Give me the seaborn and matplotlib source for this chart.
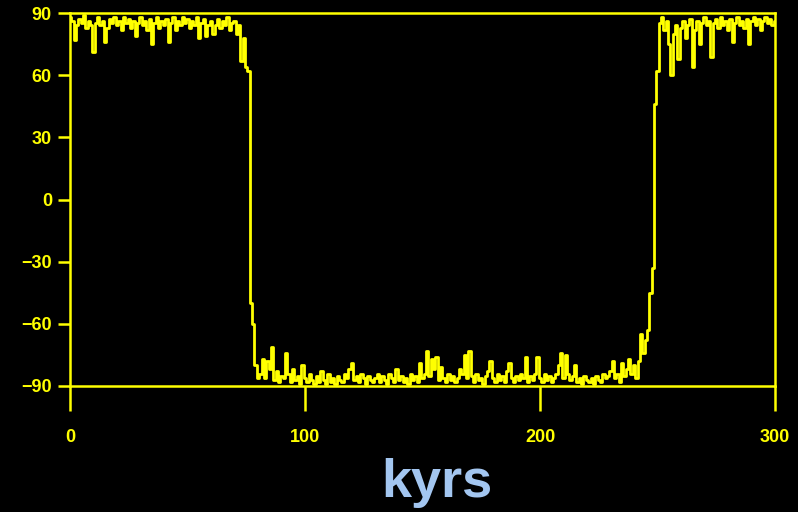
import numpy as np
import pandas as pd
import matplotlib
matplotlib.use("Agg")
import matplotlib.pyplot as plt
import seaborn as sns

# ---- data (1 kyr resolution) ----
upper_a = [88, 86, 77, 84, 87, 85, 89, 83, 86, 84,
           71, 85, 88, 84, 86, 76, 83, 87, 85, 88,
           84, 86, 82, 88, 85, 87, 83, 86, 79, 85,
           88, 84, 86, 82, 87, 75, 85, 88, 83, 86,
           84, 87, 76, 85, 88, 82, 86, 84, 88, 85,
           87, 83, 86, 84, 88, 78, 85, 87, 79, 84,
           86, 80, 84, 87, 83, 86, 84, 88, 82, 85,
           86, 80, 84, 67, 78, 64]
drop = [62, -50, -60]
lower = [-80, -86,
         -84, -77, -86, -78, -82, -71, -87, -83, -88, -85,
         -86, -74, -84, -88, -82, -87, -85, -89, -80, -86,
         -88, -84, -87, -89, -85, -88, -83, -87, -89,
         -84, -88, -86, -89, -85, -87, -88, -84, -86, -82,
         -79, -87, -85, -88, -84, -86, -89, -85, -87, -88,
         -86, -84, -88, -85, -87, -89, -84, -86, -88, -82,
         -87, -85, -88, -86, -89, -84, -87, -85, -88, -79,
         -86, -84, -73, -85, -77, -82, -76, -87, -81, -86,
         -88, -84, -87, -85, -88, -86, -82, -84, -75, -86,
         -73, -85, -88, -84, -87, -86, -89, -85, -83, -78,
         -86, -88, -84, -87, -85, -88, -83, -79, -86, -88,
         -85, -87, -84, -86, -76, -88, -85, -87, -84, -76,
         -86, -88, -84, -87, -85, -88, -86, -84, -80, -74,
         -86, -75, -84, -87, -85, -80, -88, -86, -89, -85,
         -87, -88, -86, -89, -85, -87, -88, -84, -86, -85,
         -83, -78, -86, -84, -88, -79, -85, -82, -77, -84,
         -80, -86, -78, -65, -74, -68, -63]
rise = [-45, -33, 46, 62]
upper_b = [85, 88, 82, 86, 75, 60, 80, 84, 68,
           83, 86, 78, 84, 87, 64, 82, 86, 75, 85,
           88, 84, 86, 69, 85, 87, 83, 88, 84, 86,
           82, 87, 76, 85, 88, 84, 86, 83, 87, 75,
           86, 88, 84, 87, 82, 86, 88, 85, 87, 84, 86]

inclination = upper_a + drop + lower + rise + upper_b
kyr = list(range(len(inclination)))

y_ticks = [90, 60, 30, 0, -30, -60, -90]
y_tick_labels = ["90", "60", "30", "0", "\u221230", "\u221260", "\u221290"]
x_ticks = [0, 100, 200, 300]
x_tick_labels = ["0", "100", "200", "300"]

df = pd.DataFrame({"kyr": kyr, "incl": inclination})

# ---- style ----
YEL = "#ffff00"
sns.set_style("dark")
plt.rcParams["font.family"] = ["Liberation Sans", "DejaVu Sans"]

fig = plt.figure(figsize=(7.98, 5.12), dpi=100, facecolor="black")
ax = fig.add_axes([70 / 798, 126 / 512, 705 / 798, 373 / 512])
ax.set_facecolor("black")

sns.lineplot(data=df, x="kyr", y="incl", ax=ax, color=YEL, linewidth=2.0,
             drawstyle="steps-mid")

ax.set_xlim(0, 300)
ax.set_ylim(-90, 90)
ax.grid(False)

for s in ax.spines.values():
    s.set_visible(True)
    s.set_color(YEL)
    s.set_linewidth(1.8)

ax.set_yticks(y_ticks)
ax.set_yticklabels(y_tick_labels)
ax.set_xticks(x_ticks)
ax.set_xticklabels(x_tick_labels)

ax.tick_params(axis="y", direction="out", length=9, width=1.8, color=YEL,
               labelcolor=YEL, labelsize=13, pad=4, left=True)
ax.tick_params(axis="x", direction="out", length=18, width=1.8, color=YEL,
               labelcolor=YEL, labelsize=13, pad=13, bottom=True)
for lbl in ax.get_xticklabels() + ax.get_yticklabels():
    lbl.set_fontweight("bold")

ax.set_ylabel("")
ax.set_xlabel("kyrs", color="#a3c6f0", fontsize=39, fontweight="bold")
ax.xaxis.set_label_coords((437 - 70) / 705, -(497 - 386) / 373)
ax.xaxis.label.set_va("baseline")

fig.savefig("out.png", dpi=100, facecolor="black")
